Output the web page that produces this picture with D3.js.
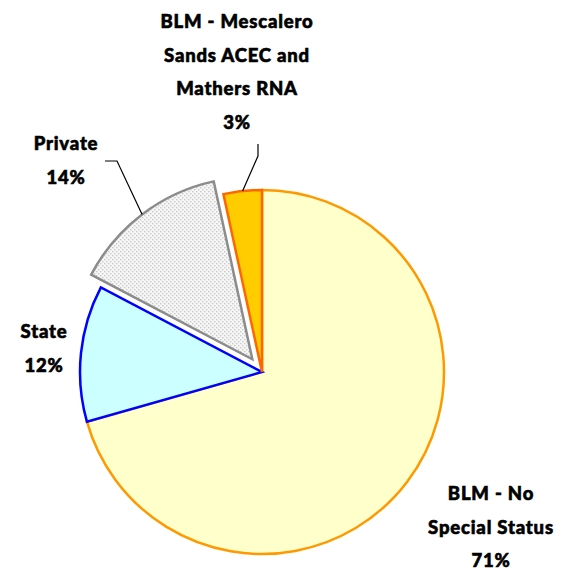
<!DOCTYPE html>
<html><head><meta charset="utf-8">
<script src="https://cdn.jsdelivr.net/npm/d3@7"></script>
<style>body{margin:0;background:#fff}svg{display:block}text{font-family:"Lato","Open Sans",sans-serif;font-weight:900;font-size:18.5px;letter-spacing:0.8px;fill:#000;stroke:#000;stroke-width:0.6px}</style>
</head><body>
<svg id="c" width="570" height="573"></svg>
<script>
const categories = ["BLM - No Special Status", "State", "Private", "BLM - Mescalero Sands ACEC and Mathers RNA"];
const values = [70.6, 12.1, 13.9, 3.4];
const labelLines = [["BLM - No", "Special Status"], ["State"], ["Private"], ["BLM - Mescalero", "Sands ACEC and", "Mathers RNA"]];
const fills = ["#FFFFCC", "#CCFFFF", "url(#dots)", "#FFCC00"];
const strokes = ["#FF9900", "#0000FF", "#8C8C8C", "#FF6600"];
const explode = [0, 0, 16, 0];

const svg = d3.select("#c");
const cx = 262, cy = 372, r = 182;
const defs = svg.append("defs");
const pat = defs.append("pattern").attr("id","dots").attr("width",4).attr("height",4).attr("patternUnits","userSpaceOnUse");
pat.append("rect").attr("width",4).attr("height",4).attr("fill","#f7f7f7");
pat.append("rect").attr("x",0).attr("y",0).attr("width",1).attr("height",1).attr("fill","#9a9a9a");
pat.append("rect").attr("x",2).attr("y",2).attr("width",1).attr("height",1).attr("fill","#9a9a9a");

const total = d3.sum(values);
const pie = d3.pie().sort(null).value(d=>d)(values);
const arc = d3.arc().innerRadius(0).outerRadius(r);
const g = svg.append("g").attr("transform",`translate(${cx},${cy})`);

function off(d,i){const m=(d.startAngle+d.endAngle)/2;return [Math.sin(m)*explode[i], -Math.cos(m)*explode[i]];}

g.selectAll("path.s").data(pie).join("path")
  .attr("class","s")
  .attr("d",arc)
  .attr("transform",(d,i)=>{const o=off(d,i);return `translate(${o[0]},${o[1]})`;})
  .attr("fill",(d,i)=>fills[i])
  .attr("stroke",(d,i)=>strokes[i])
  .attr("stroke-width",2.5)
  .attr("stroke-linejoin","miter");

// label layout (relative to pie center): [x, first baseline y]
const labelPos = [[229,128],[-218,-34],[-196,-222],[-25,-344]];
const lineH = 33.5;
pie.forEach((d,i)=>{
  const lines = labelLines[i].concat([Math.round(values[i]/total*100)+"%"]);
  const t = g.append("text").attr("text-anchor","middle");
  lines.forEach((ln,k)=>{
    t.append("tspan").attr("x",labelPos[i][0]).attr("y",labelPos[i][1]+k*lineH).text(ln);
  });
});

// leader lines
function arcPt(i){const d=pie[i];const m=(d.startAngle+d.endAngle)/2;const o=off(d,i);return [o[0]+Math.sin(m)*r, o[1]-Math.cos(m)*r];}
const leaders = [
  {i:2, pts:[[-157,-211],[-145,-211]]},
  {i:3, pts:[[-4,-228],[-4,-216]]}
];
leaders.forEach(L=>{
  const p = L.pts.concat([arcPt(L.i)]);
  g.append("path").attr("d",d3.line()(p)).attr("fill","none").attr("stroke","#000").attr("stroke-width",1.2);
});
</script>
</body></html>
